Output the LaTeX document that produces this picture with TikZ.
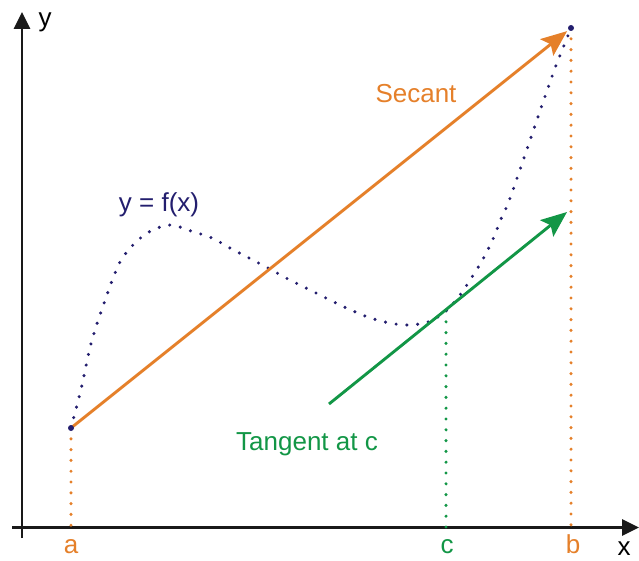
\documentclass[tikz,border=0pt]{standalone}
\usepackage{fontspec}
\setmainfont{Liberation Sans}
\usetikzlibrary{arrows.meta}
\definecolor{sorange}{RGB}{229,128,42}
\definecolor{tgreen}{RGB}{18,150,70}
\definecolor{fnavy}{RGB}{35,30,110}
\tikzset{
  axis/.style={line width=2.8pt, draw=black!90, -{Triangle[length=17pt,width=16pt]}},
  dotline/.style={line width=3.4pt, line cap=round, dash pattern=on 0pt off 10.8pt},
  lbl/.style={anchor=base, inner sep=0pt, font=\fontsize{26}{30}\selectfont},
  vec/.style={line width=2.9pt, -{Stealth[length=26pt,width=21pt,inset=5pt]}},
  enddot/.style={circle, fill=fnavy, inner sep=0pt, minimum size=6pt}
}
\begin{document}
\begin{tikzpicture}[x=1pt,y=-1pt]
\useasboundingbox (0,0) rectangle (639,561);
% coordinates
\coordinate (O1) at (22,538);
\coordinate (Ytop) at (22,12);
\coordinate (X0) at (12,527.5);
\coordinate (Xend) at (639,527.5);
\coordinate (A) at (71,428);
\coordinate (B) at (571,28);
\coordinate (Aax) at (71,527);
\coordinate (Bax) at (571,527);
\coordinate (C) at (446,311);
\coordinate (Cax) at (446,527);
\coordinate (T0) at (329,404);
\coordinate (T1) at (567,212);
% axes
\draw[axis] (O1) -- (Ytop);
\draw[axis] (X0) -- (Xend);
% dotted verticals
\draw[dotline, sorange] (A) -- (Aax);
\draw[dotline, sorange] (B) -- (Bax);
\draw[dotline, tgreen] (C) -- (Cax);
% curve
\draw[dotline, fnavy] plot[smooth, tension=0.55] coordinates {
 (71,428) (77,405) (82,385) (92,340) (108,292) (120,262) (133,245) (149,232)
 (170,225) (191,231) (212,238) (230,248) (249,258) (268,268) (288,279) (310,290)
 (340,305) (365,316) (385,322) (406,325) (428,322) (446,311) (460,295) (472,277)
 (483,259) (493,239) (501,219) (509,201) (525,155) (541,108) (548,88) (555,68)
 (563,48) (571,28)};
% secant and tangent
\draw[vec, sorange, shorten >=5pt] (A) -- (B);
\draw[vec, tgreen] (T0) -- (T1);
\node[enddot] (Adot) at (A) {};
\node[enddot] (Bdot) at (B) {};
% labels
\node[lbl] (ylab) at (45,26.5) {y};
\node[lbl] (xlab) at (624,555) {x};
\node[lbl, sorange] (alab) at (71,553) {a};
\node[lbl, sorange] (blab) at (573,553) {b};
\node[lbl, tgreen] (clab) at (447,553) {c};
\node[lbl, sorange] (sec) at (416,103) {Secant};
\node[lbl, fnavy] (flab) at (159,211.5) {y = f(x)};
\node[lbl, tgreen] (tan) at (307,450) {Tangent at c};
\end{tikzpicture}
\end{document}
